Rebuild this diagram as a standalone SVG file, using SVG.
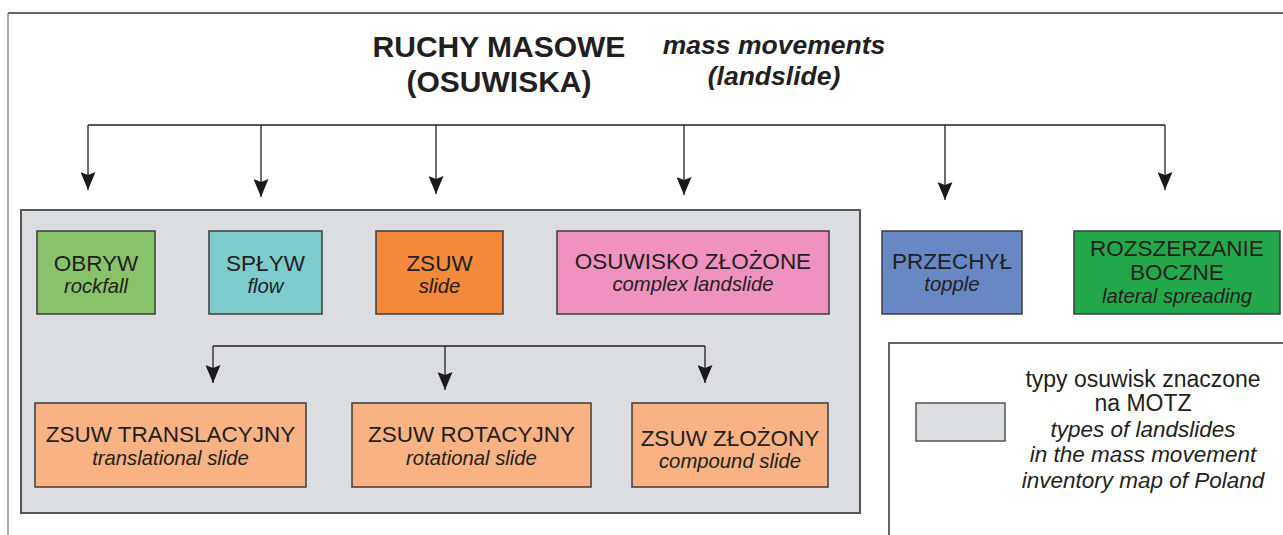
<svg xmlns="http://www.w3.org/2000/svg" width="1283" height="535" viewBox="0 0 1283 535">
<defs>
<marker id="arr" viewBox="0 0 18 15" refX="18" refY="7.5" markerWidth="18" markerHeight="15" markerUnits="userSpaceOnUse" orient="auto">
<path d="M0,0 L3,7.5 L0,15 L18,7.5 Z" fill="#1a1a1a"/>
</marker>
</defs>
<style>
.bx{stroke:#3c3c3c;stroke-width:1.5}
.t{font-family:"Liberation Sans",Arial,sans-serif;font-size:22.5px;fill:#231f20;text-anchor:middle}
.i{font-family:"Liberation Sans",Arial,sans-serif;font-size:20.3px;font-style:italic;fill:#231f20;text-anchor:middle}
.lt{font-family:"Liberation Sans",Arial,sans-serif;font-size:23px;fill:#231f20;text-anchor:middle}
.li{font-family:"Liberation Sans",Arial,sans-serif;font-size:22.5px;font-style:italic;fill:#231f20;text-anchor:middle}
.h{font-family:"Liberation Sans",Arial,sans-serif;font-size:30px;font-weight:bold;fill:#231f20;text-anchor:middle}
.hi{font-family:"Liberation Sans",Arial,sans-serif;font-size:26.5px;font-weight:bold;font-style:italic;fill:#231f20;text-anchor:middle}
.c{fill:none;stroke:#231f20;stroke-width:1.3}
</style>
<rect width="1283" height="535" fill="#ffffff"/>
<g id="frame">
<line x1="8" y1="13" x2="1283" y2="13" stroke="#333" stroke-width="1.5"/>
<line x1="8" y1="13" x2="8" y2="535" stroke="#888" stroke-width="1.5"/>
</g>
<g id="title">
<text class="h" x="499" y="57">RUCHY MASOWE</text>
<text class="h" x="499" y="92">(OSUWISKA)</text>
<text class="hi" x="774" y="54">mass movements</text>
<text class="hi" x="774" y="85">(landslide)</text>
</g>
<g id="container">
<rect x="21" y="210" width="839" height="303" fill="#dcdde0" stroke="#555" stroke-width="2"/>
</g>
<g id="connectors">
<path class="c" d="M88,125 H1165"/>
<path class="c" d="M88,125 V190" marker-end="url(#arr)"/>
<path class="c" d="M261,125 V197" marker-end="url(#arr)"/>
<path class="c" d="M436,125 V194" marker-end="url(#arr)"/>
<path class="c" d="M684,125 V195" marker-end="url(#arr)"/>
<path class="c" d="M945,125 V200" marker-end="url(#arr)"/>
<path class="c" d="M1165,125 V190" marker-end="url(#arr)"/>
<path class="c" d="M213,346 H705"/>
<path class="c" d="M213,346 V383" marker-end="url(#arr)"/>
<path class="c" d="M445,346 V390" marker-end="url(#arr)"/>
<path class="c" d="M705,346 V383" marker-end="url(#arr)"/>
</g>
<g id="obryw">
<rect class="bx" x="37" y="231" width="118" height="83" fill="#88c36b"/>
<text class="t" x="96" y="271">OBRYW</text>
<text class="i" x="96" y="293">rockfall</text>
</g>
<g id="splyw">
<rect class="bx" x="209" y="231" width="113" height="83" fill="#7ecbcb"/>
<text class="t" x="265.5" y="271">SPŁYW</text>
<text class="i" x="265.5" y="293">flow</text>
</g>
<g id="zsuw">
<rect class="bx" x="376" y="231" width="127" height="83" fill="#f4893b"/>
<text class="t" x="439.5" y="271">ZSUW</text>
<text class="i" x="439.5" y="293">slide</text>
</g>
<g id="osuwisko">
<rect class="bx" x="557" y="231" width="272" height="83" fill="#ef92bf"/>
<text class="t" x="693" y="269">OSUWISKO ZŁOŻONE</text>
<text class="i" x="693" y="291">complex landslide</text>
</g>
<g id="przechyl">
<rect class="bx" x="882" y="231" width="140" height="83" fill="#6787c5"/>
<text class="t" x="952" y="269">PRZECHYŁ</text>
<text class="i" x="952" y="291">topple</text>
</g>
<g id="rozszerzanie">
<rect class="bx" x="1074" y="231" width="206" height="83" fill="#22a84a"/>
<text class="t" x="1177" y="256">ROZSZERZANIE</text>
<text class="t" x="1177" y="280">BOCZNE</text>
<text class="i" x="1177" y="303">lateral spreading</text>
</g>
<g id="translacyjny">
<rect class="bx" x="35" y="403" width="271" height="84" fill="#f8b283"/>
<text class="t" x="170.5" y="442">ZSUW TRANSLACYJNY</text>
<text class="i" x="170.5" y="465">translational slide</text>
</g>
<g id="rotacyjny">
<rect class="bx" x="352" y="403" width="239" height="84" fill="#f8b283"/>
<text class="t" x="471.5" y="442">ZSUW ROTACYJNY</text>
<text class="i" x="471.5" y="465">rotational slide</text>
</g>
<g id="zlozony">
<rect class="bx" x="632" y="403" width="196" height="84" fill="#f8b283"/>
<text class="t" x="730" y="446">ZSUW ZŁOŻONY</text>
<text class="i" x="730" y="468">compound slide</text>
</g>
<g id="legend">
<rect x="889" y="343" width="400" height="200" fill="#ffffff" stroke="#333" stroke-width="1.5"/>
<rect x="916" y="403" width="89" height="38" fill="#dcdde0" stroke="#555" stroke-width="1.5"/>
<text class="lt" x="1143" y="387">typy osuwisk znaczone</text>
<text class="lt" x="1143" y="411">na MOTZ</text>
<text class="li" x="1143" y="437">types of landslides</text>
<text class="li" x="1143" y="462">in the mass movement</text>
<text class="li" x="1143" y="488">inventory map of Poland</text>
</g>
</svg>
